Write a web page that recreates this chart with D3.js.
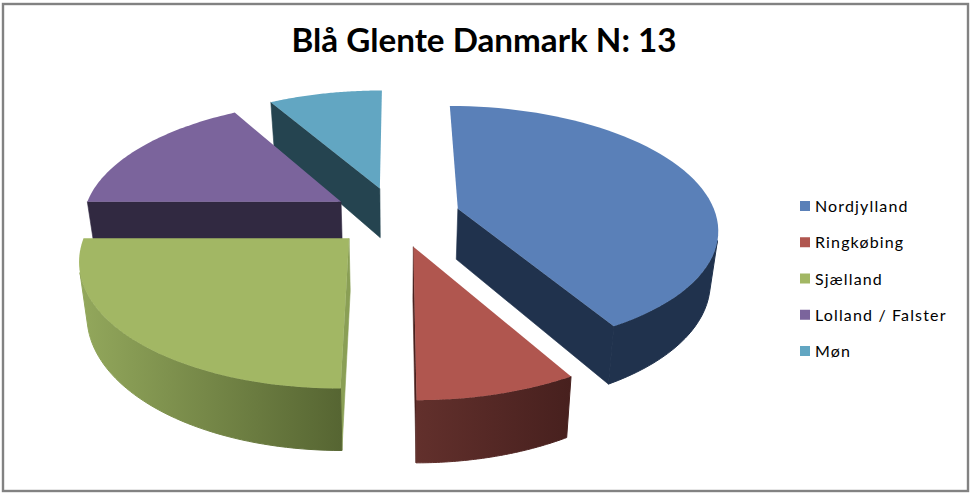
<!DOCTYPE html>
<html><head><meta charset="utf-8">
<script src="https://cdn.jsdelivr.net/npm/d3@7"></script>
<style>html,body{margin:0;padding:0;background:#fff}svg{display:block}text{font-family:Lato,"Open Sans",sans-serif}</style>
</head><body><svg id="c" width="972" height="496"></svg>
<script>
const titleText = "Blå Glente Danmark N: 13";
const categories = ["Nordjylland","Ringkøbing","Sjælland","Lolland / Falster","Møn"];
const values = [5,1,3,2,1];
const topColors = ["#5a80b8","#b0564f","#a2b764","#7b649c","#62a6c2"];
const wallColors = ["#20324d","#4a211f","#8a9f55","#312941","#254450"];
const outerFrom = ["#20324d","#62302c","#93a85c","#312941","#254450"];
const outerTo = ["#20324d","#47201e","#566532","#312941","#254450"];

const W=972,H=496, explode=0.25, A=258.5, B=120.4, b=0.15, cx=396, cy=216.5, depth=51, shrink=0.975;
const svg=d3.select("#c");
svg.append("rect").attr("x",3).attr("y",4).attr("width",965).attr("height",487).attr("fill","#fff").attr("stroke","#828282").attr("stroke-width",2.4);
const defs=svg.append("defs");

const pie=d3.pie().sort(null).startAngle(0).endAngle(2*Math.PI);
const arcs=pie(values);
const project=(X,Z,bottom)=>{const s=1/(1-b*Z);
  return bottom?[cx+A*X*s*shrink, cy+B*Z*s+depth*s]:[cx+A*X*s, cy+B*Z*s];};
const lineGen=d3.line();
const area2=p=>{let a=0;p.forEach((q,i)=>{const r=p[(i+1)%p.length];a+=q[0]*r[1]-r[0]*q[1];});return a/2;};

const drawn=arcs.map((d,i)=>{
  const mid=(d.startAngle+d.endAngle)/2, ox=explode*Math.sin(mid), oz=-explode*Math.cos(mid);
  return {d,i,ox,oz};
}).sort((p,q)=>p.oz-q.oz);

drawn.forEach(({d,i,ox,oz})=>{
  const g=svg.append("g");
  const ang=d3.range(0,61).map(k=>d.startAngle+(d.endAngle-d.startAngle)*k/60);
  const pt=a=>[ox+Math.sin(a),oz-Math.cos(a)];
  const T=ang.map(a=>project(...pt(a),false));
  const Bm=ang.map(a=>project(...pt(a),true));
  const cT=project(ox,oz,false), cB=project(ox,oz,true);
  // radial walls (a wall running straight back along the view axis stays hidden)
  const wall=(a,flip)=>{
    if(Math.cos(a)>0.999) return;
    const P=[cT,project(...pt(a),false),project(...pt(a),true),cB];
    const s=area2(P)*(flip?-1:1);
    if(s>0) g.append("path").attr("d",lineGen(P)+"Z").attr("fill",wallColors[i]).attr("stroke",wallColors[i]).attr("stroke-width",.6);};
  wall(d.startAngle,true); wall(d.endAngle,false);
  // outer wall, front-facing part
  const keep=[];
  for(let k=0;k<60;k++){ if(area2([T[k],T[k+1],Bm[k+1],Bm[k]])<0){keep.push(k,k+1);} }
  if(keep.length){
    const idx=[...new Set(keep)];
    const P=idx.map(k=>T[k]).concat(idx.slice().reverse().map(k=>Bm[k]));
    const xs=P.map(p=>p[0]);
    const id="g"+i;
    const lg=defs.append("linearGradient").attr("id",id).attr("gradientUnits","userSpaceOnUse")
      .attr("x1",d3.min(xs)).attr("x2",d3.max(xs)).attr("y1",0).attr("y2",0);
    lg.append("stop").attr("offset",0).attr("stop-color",outerFrom[i]);
    lg.append("stop").attr("offset",1).attr("stop-color",outerTo[i]);
    g.append("path").attr("d",lineGen(P)+"Z").attr("fill",`url(#${id})`).attr("stroke",`url(#${id})`).attr("stroke-width",1);
  }
  // top
  g.append("path").attr("d",lineGen([cT,...T])+"Z").attr("fill",topColors[i]);
});

svg.append("text").attr("x",484).attr("y",52).attr("text-anchor","middle").attr("font-size",33.2).attr("font-weight",700).attr("fill","#000").text(titleText);

const ly=d3.scalePoint().domain(categories).range([206,351]);
const lg=svg.append("g");
categories.forEach((c,i)=>{
  lg.append("rect").attr("x",800).attr("y",ly(c)-5).attr("width",10).attr("height",10).attr("fill",topColors[i]);
  lg.append("text").attr("x",815).attr("y",ly(c)+6).attr("font-size",16).attr("letter-spacing",1.15).attr("fill","#000").text(c);
});
</script></body></html>
